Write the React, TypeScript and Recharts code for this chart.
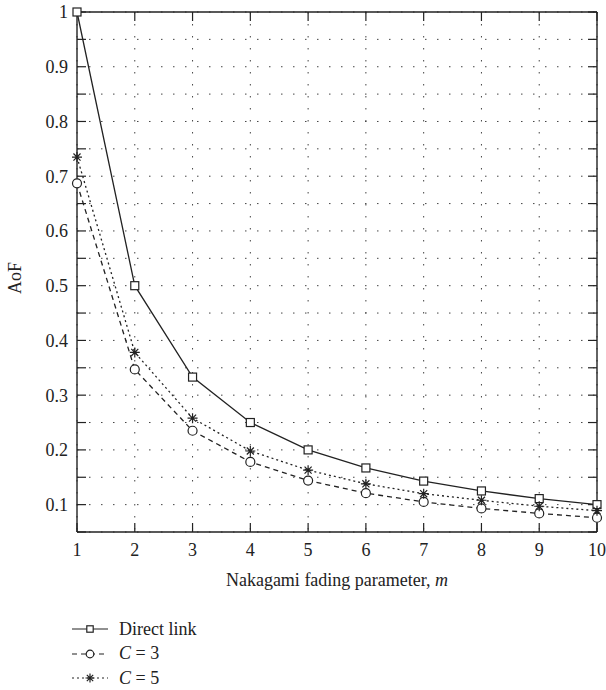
import React from "react";
import { LineChart, Line, XAxis, YAxis, CartesianGrid, Label } from "recharts";

const M_VALUES = [1, 2, 3, 4, 5, 6, 7, 8, 9, 10];
const DIRECT_LINK = [1, 0.5, 0.333, 0.25, 0.2, 0.167, 0.143, 0.125, 0.111, 0.1];
const C3 = [0.687, 0.347, 0.235, 0.178, 0.144, 0.121, 0.105, 0.093, 0.084, 0.076];
const C5 = [0.735, 0.378, 0.258, 0.198, 0.163, 0.138, 0.12, 0.108, 0.097, 0.089];

const X_TICKS = [1, 2, 3, 4, 5, 6, 7, 8, 9, 10];
const Y_TICKS = [0.05, 0.1, 0.15, 0.2, 0.25, 0.3, 0.35, 0.4, 0.45, 0.5, 0.55, 0.6, 0.65, 0.7, 0.75, 0.8, 0.85, 0.9, 0.95, 1];
const Y_LABELS: Record<string, string> = {
  "0.1": "0.1", "0.2": "0.2", "0.3": "0.3", "0.4": "0.4", "0.5": "0.5",
  "0.6": "0.6", "0.7": "0.7", "0.8": "0.8", "0.9": "0.9", "1": "1",
};

const data = M_VALUES.map((m, i) => ({ m, direct: DIRECT_LINK[i], c3: C3[i], c5: C5[i] }));

const INK = "#222";
const FONT = "'Liberation Serif', 'DejaVu Serif', serif";

function SquareDot(props: any) {
  const { cx, cy, index, s = 4 } = props;
  return <rect key={`sq-${index}`} x={cx - s} y={cy - s} width={2 * s} height={2 * s} fill="#fff" stroke={INK} strokeWidth={1.2} />;
}

function CircleDot(props: any) {
  const { cx, cy, index, s = 4.5 } = props;
  return <circle key={`ci-${index}`} cx={cx} cy={cy} r={s} fill="#fff" stroke={INK} strokeWidth={1.2} />;
}

function StarDot(props: any) {
  const { cx, cy, index, s = 5 } = props;
  const r = s;
  const d = r * 0.707;
  return (
    <path
      key={`st-${index}`}
      d={`M${cx - r},${cy}H${cx + r}M${cx},${cy - r}V${cy + r}M${cx - d},${cy - d}L${cx + d},${cy + d}M${cx - d},${cy + d}L${cx + d},${cy - d}`}
      stroke={INK}
      strokeWidth={1.2}
      fill="none"
    />
  );
}

const LEGEND_ROWS = [
  { label: "Direct link", dash: undefined, marker: "square" },
  { label: "C = 3", dash: "5 4", marker: "circle" },
  { label: "C = 5", dash: "2 3", marker: "star" },
];

function LegendBox() {
  return (
    <div style={{ position: "absolute", left: 70, top: 617, fontFamily: FONT, fontSize: 18, color: INK }}>
      {LEGEND_ROWS.map((row) => (
        <div key={row.label} style={{ display: "flex", alignItems: "center", height: 24.5 }}>
          <svg width={40} height={14} style={{ marginRight: 9 }}>
            <line x1={2} x2={38} y1={7} y2={7} stroke={INK} strokeWidth={1.1} strokeDasharray={row.dash} />
            {row.marker === "square" && <SquareDot cx={20} cy={7} index={0} s={3.2} />}
            {row.marker === "circle" && <CircleDot cx={20} cy={7} index={0} s={3.8} />}
            {row.marker === "star" && <StarDot cx={20} cy={7} index={0} s={4.5} />}
          </svg>
          {row.label === "Direct link" ? (
            <span>Direct link</span>
          ) : (
            <span>
              <i>C</i> = {row.label.slice(4)}
            </span>
          )}
        </div>
      ))}
    </div>
  );
}

export default function App() {
  const tickStyle = { fontFamily: FONT, fontSize: 18, fill: INK };
  return (
    <div style={{ position: "absolute", left: 0, top: 0, width: 606, height: 690, background: "#fff" }}>
      <LineChart width={606} height={690} data={data} margin={{ top: 0, right: 0, bottom: 88, left: 0 }}>
        <CartesianGrid stroke="#444" strokeDasharray="1.5 10.5" strokeWidth={1} />
        <XAxis
          dataKey="m"
          type="number"
          domain={[1, 10]}
          ticks={X_TICKS}
          height={70}
          stroke={INK}
          tickSize={-9}
          tickMargin={20}
          tick={tickStyle}
          tickLine={{ stroke: INK, strokeWidth: 1.2 }}
          axisLine={{ stroke: INK, strokeWidth: 1.4 }}
        >
          <Label
            content={(p: any) => {
              const vb = p.viewBox;
              return (
                <text x={vb.x + vb.width / 2} y={vb.y + 54} textAnchor="middle" fontFamily={FONT} fontSize={18} fill={INK}>
                  Nakagami fading parameter, <tspan fontStyle="italic">m</tspan>
                </text>
              );
            }}
          />
        </XAxis>
        <XAxis
          xAxisId="top"
          orientation="top"
          type="number"
          domain={[1, 10]}
          ticks={X_TICKS}
          height={12}
          tickSize={-9}
          tickFormatter={() => ""}
          tickLine={{ stroke: INK, strokeWidth: 1.2 }}
          axisLine={{ stroke: INK, strokeWidth: 1.4 }}
          allowDataOverflow
        />
        <YAxis
          type="number"
          domain={[0.05, 1]}
          ticks={Y_TICKS}
          width={77}
          tickSize={-9}
          tickMargin={18}
          tick={tickStyle}
          tickFormatter={(v: number) => Y_LABELS[String(v)] ?? ""}
          tickLine={{ stroke: INK, strokeWidth: 1.2 }}
          axisLine={{ stroke: INK, strokeWidth: 1.4 }}
        >
          <Label
            content={() => (
              <text x={0} y={0} transform="translate(21,278) rotate(-90)" textAnchor="middle" fontFamily={FONT} fontSize={18} fill={INK}>
                AoF
              </text>
            )}
          />
        </YAxis>
        <YAxis
          yAxisId="right"
          orientation="right"
          type="number"
          domain={[0.05, 1]}
          ticks={Y_TICKS}
          width={9}
          tickSize={-9}
          tickFormatter={() => ""}
          tickLine={{ stroke: INK, strokeWidth: 1.2 }}
          axisLine={{ stroke: INK, strokeWidth: 1.4 }}
          allowDataOverflow
        />
        <Line dataKey="direct" stroke={INK} strokeWidth={1.3} dot={(p: any) => <SquareDot {...p} />} isAnimationActive={false} />
        <Line dataKey="c3" stroke={INK} strokeWidth={1.3} strokeDasharray="5 4" dot={(p: any) => <CircleDot {...p} />} isAnimationActive={false} />
        <Line dataKey="c5" stroke={INK} strokeWidth={1.3} strokeDasharray="2 3" dot={(p: any) => <StarDot {...p} />} isAnimationActive={false} />
      </LineChart>
      <LegendBox />
    </div>
  );
}
